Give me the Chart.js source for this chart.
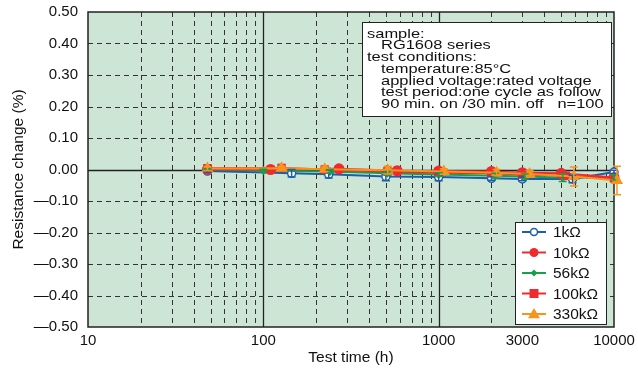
<!DOCTYPE html>
<html>
<head>
<meta charset="utf-8">
<script src="https://cdn.jsdelivr.net/npm/chart.js@4/dist/chart.umd.min.js"></script>
<style>
html,body{margin:0;padding:0;background:#fff;}
#wrap{position:relative;width:638px;height:374px;}
</style>
</head>
<body>
<div id="wrap"><canvas id="c" width="638" height="374"></canvas></div>
<script>
// ---- data ----
const seriesNames = ['1kΩ','10kΩ','56kΩ','100kΩ','330kΩ'];
const xTickLabels = [10, 100, 1000, 3000, 10000];
const yTickValues = [0.5,0.4,0.3,0.2,0.1,0,-0.1,-0.2,-0.3,-0.4,-0.5];

const t1k   = [48, 145, 236, 500, 1000, 2000, 3000, 5800, 10000];
const v1k   = [-0.005, -0.012, -0.015, -0.022, -0.024, -0.028, -0.03, -0.03, -0.008];
const e1k   = [0.004, 0.012, 0.012, 0.014, 0.012, 0.006, 0.006, 0.012, 0.006];

const t10k  = [48, 110, 270, 580, 1000, 2000, 3000, 5000, 10000];
const v10k  = [0.0, 0.0, 0.002, -0.004, -0.005, -0.006, -0.01, -0.012, -0.025];

const t56k  = [48, 100, 240, 510, 1000, 2100, 3100, 5100, 10000];
const v56k  = [0.0, -0.003, -0.006, -0.012, -0.016, -0.02, -0.022, -0.026, -0.025];
const e56k  = [0.003, 0.004, 0.005, 0.006, 0.006, 0.008, 0.008, 0.012, 0.008];

const t100k = [48, 127, 224, 510, 1000, 2000, 3000, 5300, 10000];
const v100k = [0.004, 0.005, 0.0, -0.006, -0.01, -0.012, -0.016, -0.02, -0.028];

const t330k = [48, 127, 224, 512, 1070, 2140, 3300, 5900, 10400];
const v330k = [0.003, 0.004, 0.001, -0.002, -0.006, -0.01, -0.014, -0.022, -0.035];
const e330k = [0.006, 0.006, 0.007, 0.012, 0.008, 0.01, 0.01, 0.03, 0.045];

const annotationLines = [
  ['sample:',0],
  ['RG1608 series',1],
  ['test conditions:',0],
  ['temperature:85°C',1],
  ['applied voltage:rated voltage',1],
  ['test period:one cycle as follow',1],
  ['90 min. on /30 min. off   n=100',1]
];

const pts = (t,v)=>t.map((x,i)=>({x:x,y:v[i]}));
const FONT = '"Liberation Sans", Arial, Helvetica, sans-serif';

const datasets = [
  {label:seriesNames[0], data:pts(t1k,v1k), err:e1k, borderColor:'#1b5eab', backgroundColor:'#ffffff',
   pointStyle:'circle', pointRadius:4, pointBorderWidth:1.5, borderWidth:2, order:4},
  {label:seriesNames[1], data:pts(t10k,v10k), err:null, borderColor:'#ee2a2f', backgroundColor:'#ee2a2f',
   pointStyle:'circle', pointRadius:5.5, pointBorderWidth:0, borderWidth:2, order:1},
  {label:seriesNames[2], data:pts(t56k,v56k), err:e56k, borderColor:'#17a04c', backgroundColor:'#17a04c',
   pointStyle:'rectRot', pointRadius:4.5, pointBorderWidth:0, borderWidth:2, order:3},
  {label:seriesNames[3], data:pts(t100k,v100k), err:null, borderColor:'#ee2a2f', backgroundColor:'#ee2a2f',
   pointStyle:'rect', pointRadius:6, pointBorderWidth:0, borderWidth:2, order:2},
  {label:seriesNames[4], data:pts(t330k,v330k), err:e330k, borderColor:'#f7941d', backgroundColor:'#f7941d',
   pointStyle:'triangle', pointRadius:7, pointBorderWidth:0, borderWidth:2, order:0}
];
datasets.forEach(d=>{d.fill=false; d.tension=0; d.clip=12; d.pointBackgroundColor=d.backgroundColor; d.pointBorderColor=d.borderColor;});

const bgPlugin = {
  id:'bg',
  beforeDraw(chart){
    const {ctx, chartArea:a} = chart;
    ctx.save(); ctx.fillStyle='#cde5d4'; ctx.fillRect(a.left,a.top,a.right-a.left,a.bottom-a.top); ctx.restore();
  }
};

const gridPlugin = {
  id:'grid2',
  beforeDatasetsDraw(chart){
    const {ctx, chartArea:a, scales:{x,y}} = chart;
    ctx.save();
    for(let d=10; d<10000; d*=10){
      for(let m=1;m<10;m++){
        const v=d*m; const px=Math.round(x.getPixelForValue(v))+0.5;
        if(m===1){ if(v===10) continue; ctx.setLineDash([]); ctx.strokeStyle='#222'; ctx.lineWidth=1.3; }
        else { ctx.setLineDash([5,4]); ctx.strokeStyle='#333'; ctx.lineWidth=1; }
        ctx.beginPath(); ctx.moveTo(px,a.top); ctx.lineTo(px,a.bottom); ctx.stroke();
      }
    }
    yTickValues.forEach(v=>{
      if(Math.abs(v)>0.49) return;
      const py=Math.round(y.getPixelForValue(v))+0.5;
      if(Math.abs(v)<1e-9){ ctx.setLineDash([]); ctx.strokeStyle='#222'; ctx.lineWidth=1.3; }
      else { ctx.setLineDash([5,4]); ctx.strokeStyle='#333'; ctx.lineWidth=1; }
      ctx.beginPath(); ctx.moveTo(a.left,py); ctx.lineTo(a.right,py); ctx.stroke();
    });
    ctx.setLineDash([]);
    ctx.strokeStyle='#222'; ctx.lineWidth=1.5;
    ctx.strokeRect(a.left,a.top,a.right-a.left,a.bottom-a.top);
    ctx.restore();
  },
  afterDatasetsDraw(chart){
    const {ctx, scales:{x,y}} = chart;
    ctx.save();
    chart.data.datasets.forEach(ds=>{
      if(!ds.err) return;
      ctx.strokeStyle=ds.borderColor; ctx.lineWidth=1.5;
      ds.data.forEach((p,i)=>{
        const px=x.getPixelForValue(p.x);
        const y1=y.getPixelForValue(p.y+ds.err[i]), y2=y.getPixelForValue(p.y-ds.err[i]);
        ctx.beginPath();
        ctx.moveTo(px,y1); ctx.lineTo(px,y2);
        ctx.moveTo(px-4,y1); ctx.lineTo(px+4,y1);
        ctx.moveTo(px-4,y2); ctx.lineTo(px+4,y2);
        ctx.stroke();
      });
    });
    ctx.restore();
  },
  afterDraw(chart){
    const ctx=chart.ctx;
    ctx.save();
    // annotation box
    ctx.fillStyle='#fff'; ctx.strokeStyle='#222'; ctx.lineWidth=1;
    ctx.fillRect(362,22,249,94); ctx.strokeRect(362.5,22.5,249,94);
    ctx.fillStyle='#111'; ctx.font='13.5px '+FONT; ctx.textBaseline='middle';
    annotationLines.forEach((l,i)=>{
      ctx.save();
      ctx.translate(l[1]?381:367, 34+i*11.7);
      ctx.scale(1.22,1);
      ctx.fillText(l[0], 0, 0);
      ctx.restore();
    });
    // legend box
    ctx.fillStyle='#fff'; ctx.strokeStyle='#222'; ctx.lineWidth=1;
    ctx.fillRect(515,222,91,102); ctx.strokeRect(515.5,222.5,91,102);
    chart.data.datasets.forEach((ds,i)=>{
      const cy=232+i*20.5;
      ctx.strokeStyle=ds.borderColor; ctx.lineWidth=2;
      ctx.beginPath(); ctx.moveTo(522,cy); ctx.lineTo(546,cy); ctx.stroke();
      const r={circle:i===0?3.5:4.5, rectRot:3.5, rect:4.5, triangle:6}[ds.pointStyle];
      ctx.fillStyle=ds.backgroundColor; ctx.strokeStyle=ds.borderColor; ctx.lineWidth=ds.pointBorderWidth||1;
      ctx.beginPath();
      if(ds.pointStyle==='circle'){ ctx.arc(534,cy,r,0,Math.PI*2); ctx.fill(); if(ds.pointBorderWidth) ctx.stroke(); }
      else if(ds.pointStyle==='rectRot'){ ctx.moveTo(534,cy-r);ctx.lineTo(534+r,cy);ctx.lineTo(534,cy+r);ctx.lineTo(534-r,cy);ctx.closePath();ctx.fill(); }
      else if(ds.pointStyle==='rect'){ ctx.rect(534-r,cy-r,2*r,2*r); ctx.fill(); }
      else { ctx.moveTo(534,cy-r);ctx.lineTo(534+r,cy+r*0.7);ctx.lineTo(534-r,cy+r*0.7);ctx.closePath();ctx.fill(); }
      ctx.fillStyle='#111'; ctx.font='15.5px '+FONT; ctx.textBaseline='middle';
      ctx.fillText(ds.label, 553, cy+1);
    });
    ctx.restore();
  }
};

new Chart(document.getElementById('c'), {
  type:'line',
  data:{datasets:datasets},
  options:{
    responsive:false, animation:false, devicePixelRatio:1,
    layout:{padding:{left:9,right:24,top:12,bottom:7}},
    plugins:{legend:{display:false}, tooltip:{enabled:false}},
    scales:{
      x:{type:'logarithmic', min:10, max:10000,
         afterBuildTicks(s){ s.ticks = xTickLabels.map(v=>({value:v})); },
         afterFit(s){ s.height=40; s.paddingLeft=0; s.paddingRight=0; },
         ticks:{color:'#111', font:{family:FONT,size:15}, padding:5, maxRotation:0, autoSkip:false,
                callback:(v)=>String(v)},
         grid:{display:false, drawTicks:false}, border:{display:false},
         title:{display:true, text:'Test time (h)', color:'#111', font:{family:FONT,size:15.5}, padding:{top:4,bottom:0}}
      },
      y:{type:'linear', min:-0.5, max:0.5,
         afterBuildTicks(s){ s.ticks = yTickValues.map(v=>({value:v})); },
         afterFit(s){ s.width=79; s.paddingTop=0; s.paddingBottom=0; },
         ticks:{color:'#111', font:{family:FONT,size:15}, padding:10,
                callback:(v)=>{ const r=Math.round(v*100)/100; return (r<0?'—':'')+Math.abs(r).toFixed(2);} },
         grid:{display:false, drawTicks:false}, border:{display:false},
         title:{display:true, text:'Resistance change (%)', color:'#111', font:{family:FONT,size:15.5}, padding:{top:0,bottom:2}}
      }
    }
  },
  plugins:[bgPlugin, gridPlugin]
});
</script>
</body>
</html>
